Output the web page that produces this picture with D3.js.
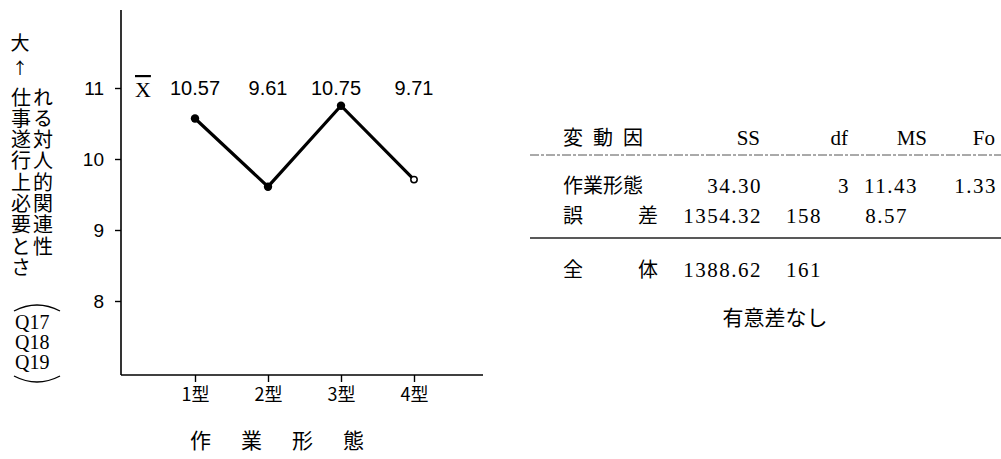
<!DOCTYPE html>
<html><head><meta charset="utf-8">
<script src="https://cdn.jsdelivr.net/npm/d3@7"></script>
<style>
html,body{margin:0;padding:0;background:#fff;}
svg{display:block;}
</style></head>
<body>
<svg id="c" width="1001" height="459"></svg>
<script>
// ---- data ----
const categories = ["1型", "2型", "3型", "4型"];
const means = [10.57, 9.61, 10.75, 9.71];
const meanLabels = ["10.57", "9.61", "10.75", "9.71"];
const yTicks = [8, 9, 10, 11];
const yLabelCol1 = "仕事遂行上必要とさ";
const yLabelCol2 = "れる対人的関連性";
const yLabelTop = "大";
const yLabelQs = ["Q17", "Q18", "Q19"];
const xTitle = "作業形態";
const tableHeader = ["変動因", "SS", "df", "MS", "Fo"];
const tableRowNames = ["作業形態", "誤差", "全体"];
const tableSS = ["34.30", "1354.32", "1388.62"];
const tableDf = ["3", "158", "161"];
const tableMS = ["11.43", "8.57", ""];
const tableFo = ["1.33", "", ""];
const note = "有意差なし";

const svg = d3.select("#c");
const jp = "'Noto Sans CJK JP', sans-serif";
const sans = "'Liberation Sans', Arial, sans-serif";
const serif = "'Liberation Serif', 'DejaVu Serif', serif";

// ---- scales ----
const y = d3.scaleLinear().domain([8, 11]).range([301, 88]);
const x = d3.scalePoint().domain(categories).range([195, 414]);
const axisX0 = 121, axisY0 = 375, axisTop = 10, axisRight = 483;

// axes lines
svg.append("line").attr("x1", axisX0).attr("x2", axisX0).attr("y1", axisTop).attr("y2", axisY0)
  .attr("stroke", "#000").attr("stroke-width", 1.6);
svg.append("line").attr("x1", axisX0).attr("x2", axisRight).attr("y1", axisY0).attr("y2", axisY0)
  .attr("stroke", "#000").attr("stroke-width", 1.6);

// y axis
const gy = svg.append("g").attr("transform", `translate(${axisX0},0)`)
  .call(d3.axisLeft(y).tickValues(yTicks).tickSize(6).tickPadding(11).tickFormat(d3.format("d")));
gy.select(".domain").remove();
gy.selectAll(".tick line").attr("stroke", "#000").attr("stroke-width", 1.4);
gy.selectAll(".tick text").attr("font-family", sans).attr("font-size", 19).attr("fill", "#000");

// x axis
const gx = svg.append("g").attr("transform", `translate(0,${axisY0})`)
  .call(d3.axisBottom(x).tickSize(7).tickPadding(6));
gx.select(".domain").remove();
gx.selectAll(".tick line").attr("stroke", "#000").attr("stroke-width", 1.4);
gx.selectAll(".tick text").attr("font-family", jp).attr("font-size", 18).attr("fill", "#000");

// x title
svg.append("text").attr("x", 190).attr("y", 448).attr("font-family", jp).attr("font-size", 21)
  .attr("letter-spacing", "30px").text(xTitle);

// line
const line = d3.line().x((d, i) => x(categories[i])).y(d => y(d));
svg.append("path").datum(means).attr("d", line).attr("fill", "none")
  .attr("stroke", "#000").attr("stroke-width", 3.2).attr("stroke-linejoin", "miter");
svg.selectAll("circle.pt").data(means).enter().append("circle").attr("class", "pt")
  .attr("cx", (d, i) => x(categories[i])).attr("cy", d => y(d))
  .attr("r", (d, i) => i === 3 ? 3.2 : 4.2)
  .attr("fill", (d, i) => i === 3 ? "#fff" : "#000")
  .attr("stroke", "#000").attr("stroke-width", (d, i) => i === 3 ? 1.5 : 0);

// mean labels
svg.append("text").attr("x", 135).attr("y", 97).attr("font-family", serif).attr("font-size", 22)
  .attr("text-decoration", "overline").text("X");
svg.selectAll("text.ml").data(meanLabels).enter().append("text").attr("class", "ml")
  .attr("x", (d, i) => x(categories[i]) - (i === 2 ? 5 : 0)).attr("y", 95)
  .attr("text-anchor", "middle").attr("font-family", sans).attr("font-size", 20).text(d => d);

// y label (vertical)
svg.append("text").attr("x", 20).attr("y", 50).attr("text-anchor", "middle")
  .attr("font-family", jp).attr("font-size", 19).text(yLabelTop);
svg.append("text").attr("x", 20).attr("y", 74).attr("text-anchor", "middle")
  .attr("font-family", jp).attr("font-size", 16).text("↑");
svg.append("text").attr("x", 21).attr("y", 87)
  .attr("font-family", jp).attr("font-size", 20)
  .style("writing-mode", "vertical-rl").style("text-orientation", "upright")
  .attr("letter-spacing", "1.3px").text(yLabelCol1);
svg.append("text").attr("x", 43).attr("y", 87)
  .attr("font-family", jp).attr("font-size", 20)
  .style("writing-mode", "vertical-rl").style("text-orientation", "upright")
  .attr("letter-spacing", "1.3px").text(yLabelCol2);
svg.selectAll("text.q").data(yLabelQs).enter().append("text").attr("class", "q")
  .attr("x", 15).attr("y", (d, i) => 329 + i * 20)
  .attr("font-family", serif).attr("font-size", 20).text(d => d);
svg.append("path").attr("d", "M14,311 Q37,299 60,311").attr("fill", "none").attr("stroke", "#000").attr("stroke-width", 1.4);
svg.append("path").attr("d", "M14,376 Q37,388 60,376").attr("fill", "none").attr("stroke", "#000").attr("stroke-width", 1.4);

// ---- table ----
const tY = { header: 145, dash: 155, rows: [193, 223, 277], solid: 238, note: 325 };
// header
svg.append("text").attr("x", 563).attr("y", tY.header).attr("font-family", jp).attr("font-size", 20)
  .attr("letter-spacing", "10px").text(tableHeader[0]);
const hdrRight = [null, 760, 848, 927, 995];
tableHeader.slice(1).forEach((h, i) => {
  svg.append("text").attr("x", hdrRight[i + 1]).attr("y", tY.header).attr("text-anchor", "end")
    .attr("font-family", serif).attr("font-size", 21).text(h);
});
svg.append("line").attr("x1", 530).attr("x2", 1001).attr("y1", tY.dash).attr("y2", tY.dash)
  .attr("stroke", "#555").attr("stroke-width", 1).attr("stroke-dasharray", "9,2,3,2");
svg.append("line").attr("x1", 530).attr("x2", 1001).attr("y1", tY.solid).attr("y2", tY.solid)
  .attr("stroke", "#222").attr("stroke-width", 1.4);
// row names
tableRowNames.forEach((n, i) => {
  if (n.length === 4) {
    svg.append("text").attr("x", 563).attr("y", tY.rows[i]).attr("font-family", jp).attr("font-size", 20).text(n);
  } else {
    svg.append("text").attr("x", 563).attr("y", tY.rows[i]).attr("font-family", jp).attr("font-size", 20).text(n[0]);
    svg.append("text").attr("x", 638).attr("y", tY.rows[i]).attr("font-family", jp).attr("font-size", 20).text(n[1]);
  }
});
// right edges per row (row 1 is set wider than rows 2-3 in the original)
const cellRight = [
  [762, 850, 918, 997],
  [762, 822, 908, 0],
  [762, 822, 0, 0]
];
const numCol = (arr, c) => arr.forEach((v, i) => {
  if (!v) return;
  svg.append("text").attr("x", cellRight[i][c]).attr("y", tY.rows[i]).attr("text-anchor", "end")
    .attr("font-family", serif).attr("font-size", 21).attr("letter-spacing", "1.5px").text(v);
});
numCol(tableSS, 0);
numCol(tableDf, 1);
numCol(tableMS, 2);
numCol(tableFo, 3);
svg.append("text").attr("x", 775).attr("y", tY.note).attr("text-anchor", "middle")
  .attr("font-family", jp).attr("font-size", 21).text(note);
</script>
</body></html>
